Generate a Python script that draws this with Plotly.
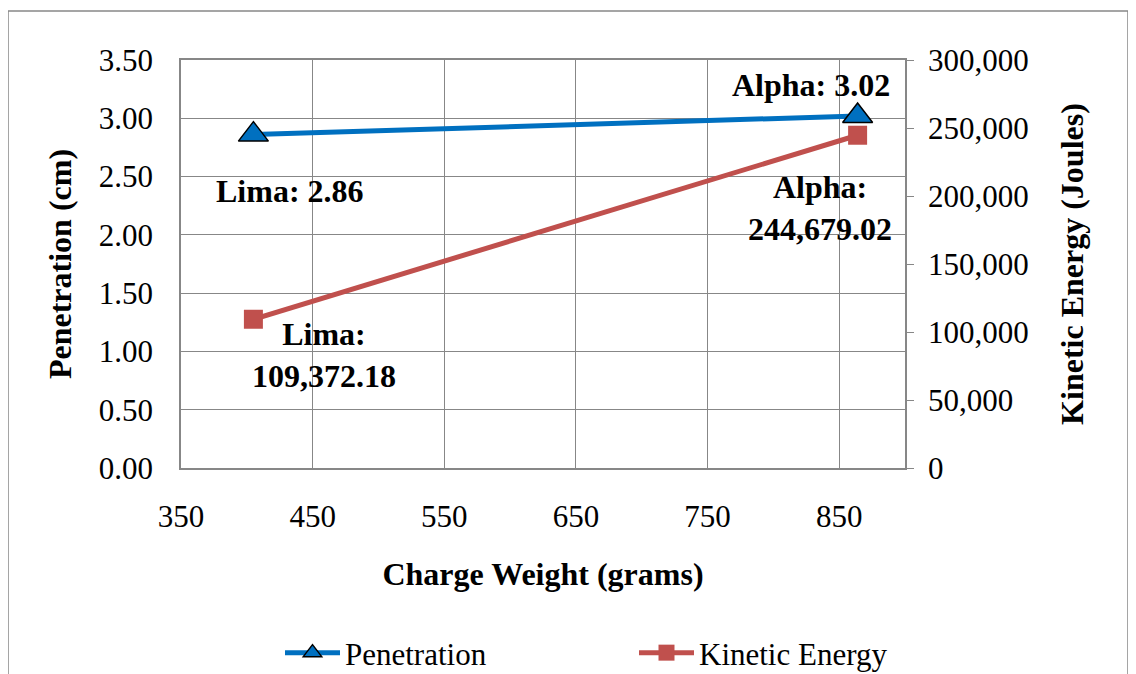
import plotly.graph_objects as go

# Data
names = ["Lima", "Alpha"]
charge_weight = [405, 864]
penetration = [2.86, 3.02]
kinetic_energy = [109372.18, 244679.02]

BLUE = "#0070C0"
RED = "#C0504D"
GRID = "#878787"
FONT = "Liberation Serif"

# the page body adds an 8px offset; work in figure pixels = screen pixels - 8
OFF = 8
W, H = 1136 - OFF, 674 - OFF
l, r, t, b = 181 - OFF, 1136 - 905, 60 - OFF, 674 - 468
pw, ph = W - l - r, H - t - b

def px(xp):
    return (xp - OFF - l) / pw

def py(yp):
    return (H - b - (yp - OFF)) / ph

fig = go.Figure()
fig.add_trace(go.Scatter(
    x=charge_weight, y=penetration, name="Penetration", mode="lines+markers",
    line=dict(color=BLUE, width=5),
    marker=dict(symbol="triangle-up", size=26, color=BLUE, line=dict(color="black", width=1.5)),
    yaxis="y", legend="legend"))
fig.add_trace(go.Scatter(
    x=charge_weight, y=kinetic_energy, name="Kinetic Energy", mode="lines+markers",
    line=dict(color=RED, width=5),
    marker=dict(symbol="square", size=19, color=RED),
    yaxis="y2", legend="legend2"))

lab_font = dict(family=FONT, size=32, color="black")
ann = []
ann.append(dict(x=charge_weight[0], y=penetration[0], xref="x", yref="y",
                text=f"<b>{names[0]}: {penetration[0]:.2f}</b>", showarrow=False,
                font=lab_font, xshift=37, yshift=-56))
ann.append(dict(x=charge_weight[1], y=penetration[1], xref="x", yref="y",
                text=f"<b>{names[1]}: {penetration[1]:.2f}</b>", showarrow=False,
                font=lab_font, xshift=-47, yshift=31))
ann.append(dict(x=charge_weight[0], y=kinetic_energy[0], xref="x", yref="y2",
                text=f"<b>{names[0]}:<br>{kinetic_energy[0]:,.2f}</b>", showarrow=False,
                font=lab_font, xshift=71, yshift=-36))
ann.append(dict(x=charge_weight[1], y=kinetic_energy[1], xref="x", yref="y2",
                text=f"<b>{names[1]}:<br>{kinetic_energy[1]:,.2f}</b>", showarrow=False,
                font=lab_font, xshift=-38, yshift=-73))

leg_common = dict(orientation="h", xref="container", yref="container",
                  xanchor="left", yanchor="middle", font=dict(family=FONT, size=31),
                  itemwidth=55, bgcolor="rgba(0,0,0,0)")

fig.update_layout(
    width=W, height=H,
    margin=dict(l=l, r=r, t=t, b=b, autoexpand=False),
    paper_bgcolor="white", plot_bgcolor="white",
    font=dict(family=FONT, size=31, color="black"),
    showlegend=True,
    legend=dict(x=(280 - OFF) / W, y=(H - (653 - OFF)) / H, **leg_common),
    legend2=dict(x=(634 - OFF) / W, y=(H - (653 - OFF)) / H, **leg_common),
    annotations=ann,
    xaxis=dict(range=[350, 900], tick0=350, dtick=100, showgrid=True, gridcolor=GRID,
               gridwidth=1, showline=True, linecolor=GRID, linewidth=1.5, mirror=True,
               ticks="", zeroline=False, ticklabelstandoff=20, automargin=False,
               title=dict(text="<b>Charge Weight (grams)</b>", font=dict(family=FONT, size=32), standoff=30)),
    yaxis=dict(range=[0, 3.5], dtick=0.5, tickformat=".2f", showgrid=True, gridcolor=GRID,
               gridwidth=1, showline=True, linecolor=GRID, linewidth=1.5, ticks="",
               zeroline=False, ticklabelstandoff=20, automargin=False,
               title=dict(text="<b>Penetration (cm)</b>", font=dict(family=FONT, size=32), standoff=18)),
    yaxis2=dict(range=[0, 300000], dtick=50000, tickformat=",", overlaying="y", side="right",
                showgrid=False, showline=True, linecolor=GRID, linewidth=1.5,
                ticks="outside", ticklen=7, tickcolor=GRID, zeroline=False, automargin=False,
                ticklabelstandoff=8,
                title=dict(text="<b>Kinetic Energy (Joules)</b>", font=dict(family=FONT, size=32), standoff=33)),
    shapes=[dict(type="rect", xref="paper", yref="paper",
                 x0=px(8), x1=px(1128), y0=py(700), y1=py(11),
                 line=dict(color="#888888", width=1.5), fillcolor="rgba(0,0,0,0)", layer="below")],
)

fig.write_html("out.html")
